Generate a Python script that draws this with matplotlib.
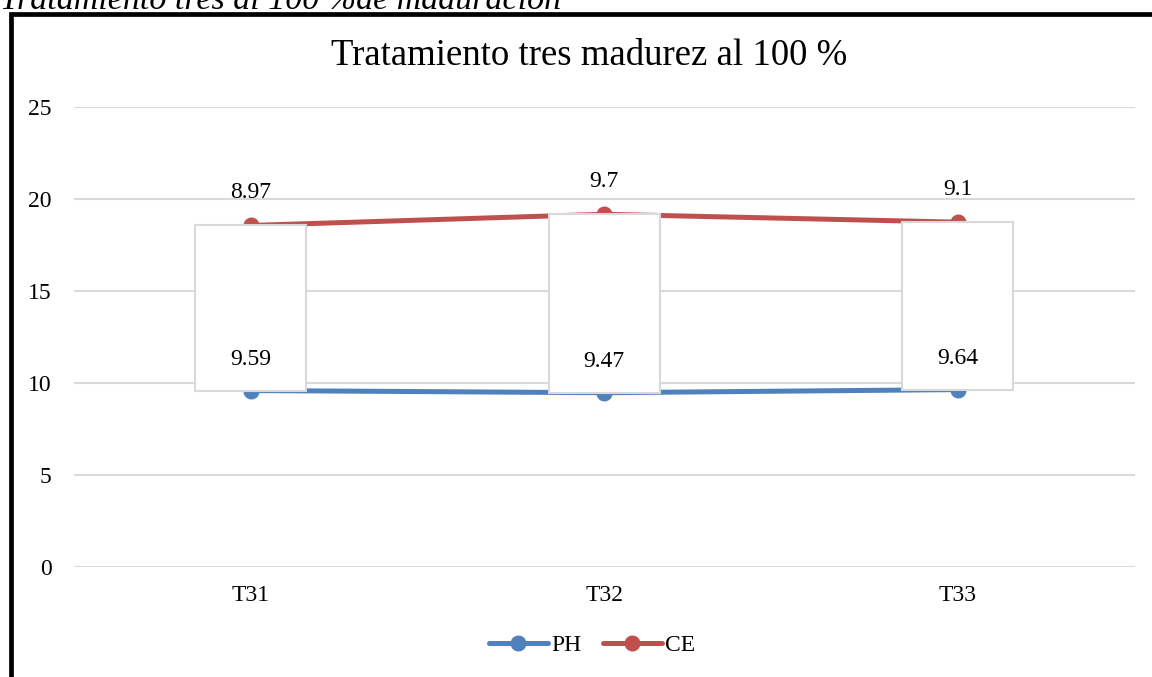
import numpy as np
import matplotlib.pyplot as plt
from matplotlib.patches import Rectangle

# muestras y valores medidos
muestras = ["T31", "T32", "T33"]
ph = [9.59, 9.47, 9.64]
ce = [8.97, 9.7, 9.1]
y_ticks = [0, 5, 10, 15, 20, 25]

plt.rcParams['font.family'] = ['Liberation Serif', 'DejaVu Serif']

azul = "#4F81BD"
rojo = "#C0504D"
gris = "#D9D9D9"
fs = 17

fig = plt.figure(figsize=(11.52, 6.77), dpi=100)
ax = fig.add_axes([0.064, 0.1625, 0.921, 0.6795])

x = np.arange(len(muestras))
ph_arr = np.array(ph)
ce_apilado = ph_arr + np.array(ce)  # línea apilada

# lineas de PH y CE (CE apilada sobre PH)
ax.plot(x, ph_arr, color=azul, lw=3.6, marker='o', ms=10.5, solid_capstyle='round', zorder=3, label="PH")
ax.plot(x, ce_apilado, color=rojo, lw=3.6, marker='o', ms=10.5, solid_capstyle='round', zorder=3, label="CE")

# barras ascendentes entre las dos series
ax.bar(x, ce_apilado - ph_arr, bottom=ph_arr, width=0.314, facecolor='white',
       edgecolor=gris, linewidth=1.5, zorder=4)

# etiquetas de datos
for xi, yi, v in zip(x, ph_arr, ph):
    ax.annotate(f"{v:g}", (xi, yi), xytext=(0, 31), textcoords='offset pixels',
                ha='center', va='center', fontsize=fs, zorder=6)
for xi, yi, v in zip(x, ce_apilado, ce):
    ax.annotate(f"{v:g}", (xi, yi), xytext=(0, 33), textcoords='offset pixels',
                ha='center', va='center', fontsize=fs, zorder=6)

ax.set_xlim(-0.5, 2.5)
ax.set_ylim(0, 25)
ax.set_yticks(y_ticks)
ax.set_xticks(x)
ax.set_xticklabels(muestras)
ax.yaxis.grid(True, color=gris, lw=1.5)
ax.set_axisbelow(True)
for s in ax.spines.values():
    s.set_visible(False)
ax.tick_params(axis='both', length=0, labelsize=fs)
ax.tick_params(axis='y', pad=16)
ax.tick_params(axis='x', pad=13)

fig.text(0.511, 1 - 56 / 677, "Tratamiento tres madurez al 100 %", ha='center', va='center', fontsize=26.5)

fig.legend(loc='center', bbox_to_anchor=(0.514, 1 - 645 / 677), ncol=2, frameon=False,
           fontsize=fs, handlelength=2.5, handletextpad=0.15, columnspacing=0.9)

# rótulo de la figura en el documento
fig.text(0.0, 1 - 9 / 677, "Tratamiento tres al 100 %de maduración", ha='left', va='baseline',
         fontsize=24.5, style='italic')

# marco negro del gráfico
fig.patches.append(Rectangle((11 / 1152, -0.2), 1.2, 1 - 14 / 677 + 0.2, transform=fig.transFigure,
                             fill=False, edgecolor='black', linewidth=3.4, zorder=10))

fig.savefig("out.png", dpi=100)
